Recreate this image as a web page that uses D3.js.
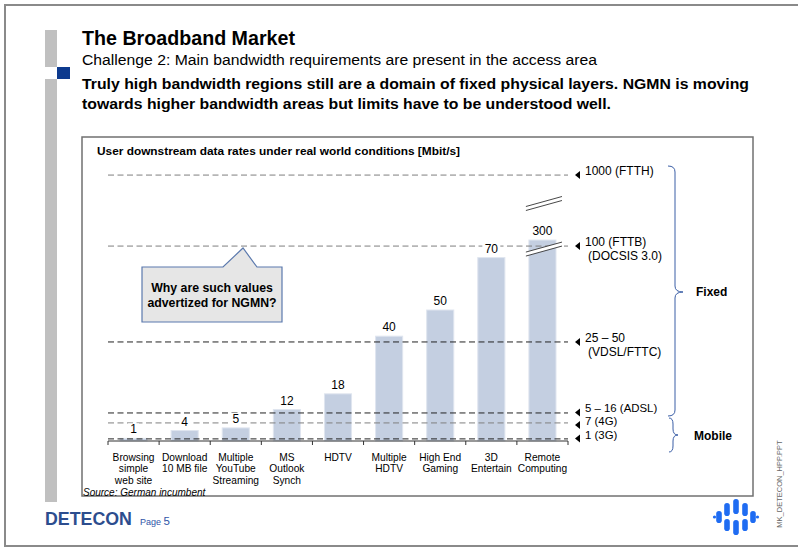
<!DOCTYPE html>
<html><head><meta charset="utf-8">
<script src="https://cdn.jsdelivr.net/npm/d3@7"></script>
<style>
html,body{margin:0;padding:0;background:#fff;}
svg{display:block;font-family:"Liberation Sans",Arial,sans-serif;}
</style></head>
<body>
<svg id="c" width="798" height="548"></svg>
<script>
// ---------- data ----------
const categories = ["Browsing\nsimple\nweb site","Download\n10 MB file","Multiple\nYouTube\nStreaming","MS\nOutlook\nSynch","HDTV","Multiple\nHDTV","High End\nGaming","3D\nEntertain","Remote\nComputing"];
const values = [1,4,5,12,18,40,50,70,300];
const barCap = 76.7;               // 300 bar shown with an axis break
const refLabels = ["1000 (FTTH)","100 (FTTB)\n(DOCSIS 3.0)","25 – 50\n(VDSL/FTTC)","5 – 16 (ADSL)","7 (4G)","1 (3G)"];
const refPositions = [101.5, 74.4, 37.8, 10.7, 6.9, 0.8]; // position on broken scale
const refDark = [false,false,true,true,false,true];
const groupLabels = ["Fixed","Mobile"];

const svg = d3.select("#c");
const labelNudge = [0,0,0,-0.5,2,-0.3];

// frame
svg.append("rect").attr("x",5).attr("y",5).attr("width",800).attr("height",541)
  .attr("fill","none").attr("stroke","#8a8a8a").attr("stroke-width",2);
// left grey bar + blue square
svg.append("rect").attr("x",45).attr("y",30).attr("width",12).attr("height",37).attr("fill","#c0c0c0");
svg.append("rect").attr("x",45).attr("y",79).attr("width",12).attr("height",423).attr("fill","#c0c0c0");
svg.append("rect").attr("x",57).attr("y",67).attr("width",13).attr("height",12).attr("fill","#0d3a8e");

// titles
svg.append("text").attr("x",82).attr("y",45).attr("font-size",19.5).attr("font-weight","bold")
  .attr("textLength",213).attr("lengthAdjust","spacingAndGlyphs").text("The Broadband Market");
svg.append("text").attr("x",82).attr("y",65).attr("font-size",15.5)
  .attr("textLength",515).attr("lengthAdjust","spacingAndGlyphs").text("Challenge 2: Main bandwidth requirements are present in the access area");
svg.append("text").attr("x",82).attr("y",89).attr("font-size",15.3).attr("font-weight","bold")
  .attr("textLength",667).attr("lengthAdjust","spacingAndGlyphs").text("Truly high bandwidth regions still are a domain of fixed physical layers. NGMN is moving");
svg.append("text").attr("x",82).attr("y",109).attr("font-size",15.3).attr("font-weight","bold")
  .attr("textLength",529).attr("lengthAdjust","spacingAndGlyphs").text("towards higher bandwidth areas but limits have to be understood well.");

// chart box
svg.append("rect").attr("x",82).attr("y",137).attr("width",671).attr("height",359)
  .attr("fill","none").attr("stroke","#707070").attr("stroke-width",1.5);
svg.append("text").attr("x",97).attr("y",155).attr("font-size",11.6).attr("font-weight","bold")
  .attr("textLength",363).attr("lengthAdjust","spacingAndGlyphs").text("User downstream data rates under real world conditions [Mbit/s]");

// scales
const x = d3.scaleBand().domain(categories).range([108,568]).paddingInner(0.47).paddingOuter(0.235);
const y = d3.scaleLinear().domain([0,100]).range([441,179]);
const step = x.step();

// bars
svg.append("g").selectAll("rect.bar").data(values).join("rect").attr("class","bar")
  .attr("x",(d,i)=>x(categories[i])).attr("width",x.bandwidth())
  .attr("y",d=>y(Math.min(d,barCap))).attr("height",d=>y(0)-y(Math.min(d,barCap)))
  .attr("fill","#c4cfe1").attr("stroke","#dfe5ef").attr("stroke-width",1);

// axis
const axisG = svg.append("g").attr("transform",`translate(0,${y(0)})`);
axisG.append("line").attr("x1",108).attr("x2",568).attr("stroke","#333").attr("stroke-width",1.2);
axisG.selectAll("line.tk").data(d3.range(categories.length+1)).join("line").attr("class","tk")
  .attr("x1",i=>108+i*step).attr("x2",i=>108+i*step).attr("y1",0).attr("y2",4).attr("stroke","#333");
categories.forEach((c,i)=>{
  const cx = x(c)+x.bandwidth()/2;
  const t = svg.append("text").attr("x",cx).attr("y",460.5).attr("text-anchor","middle").attr("font-size",10.2);
  c.split("\n").forEach((l,j)=>t.append("tspan").attr("x",cx).attr("dy",j?11.8:0).text(l));
});
svg.append("text").attr("x",83).attr("y",495.5).attr("font-size",10).attr("font-style","italic").text("Source: German incumbent");

// reference dashed lines (on top of bars)
refPositions.forEach((p,i)=>{
  svg.append("line").attr("x1",108).attr("x2",568).attr("y1",y(p)).attr("y2",y(p))
    .attr("stroke",refDark[i]?"#222":"#7f7f7f").attr("stroke-width",1).attr("stroke-dasharray","6,3.5");
  const ly = y(p)+labelNudge[i];
  svg.append("path").attr("d",`M575,${ly} L580,${ly-4} L580,${ly+4} Z`).attr("fill","#000");
  const fs = (i>=3)?11.4:12;
  const t = svg.append("text").attr("x",585).attr("y",ly).attr("dy","0.36em").attr("font-size",fs);
  refLabels[i].split("\n").forEach((l,j)=>t.append("tspan").attr("x",j?588:585).attr("dy",j?"1.2em":0).text(l));
});

// axis break on 300 bar
const bi = values.indexOf(300);
const bx0 = x(categories[bi])-3, bx1 = x(categories[bi])+x.bandwidth()+6;
function brk(yc){
  const a = yc+5, b = yc-5;
  svg.append("path").attr("d",`M${bx0},${a-2} L${bx1},${b-2} L${bx1},${b+2} L${bx0},${a+2} Z`).attr("fill","#fff");
  svg.append("line").attr("x1",bx0).attr("y1",a-2).attr("x2",bx1).attr("y2",b-2).attr("stroke","#333").attr("stroke-width",0.9);
  svg.append("line").attr("x1",bx0).attr("y1",a+2).attr("x2",bx1).attr("y2",b+2).attr("stroke","#333").attr("stroke-width",0.9);
}
brk(y(refPositions[1])+3);
brk(203.5);

// value labels with white backgrounds
values.forEach((v,i)=>{
  const cx = x(categories[i])+x.bandwidth()/2, ty = y(Math.min(v,barCap))-5;
  const s = String(v); const w = s.length*7+4;
  svg.append("rect").attr("x",cx-w/2).attr("y",ty-10).attr("width",w).attr("height",12).attr("fill","#fff");
  svg.append("text").attr("x",cx).attr("y",ty).attr("text-anchor","middle").attr("font-size",12).text(s);
});

// callout
svg.append("path").attr("d","M142,267 L223,267 L243,248 L257,267 L282,267 L282,322 L142,322 Z")
  .attr("fill","#e6e6e6").attr("stroke","#5b79ad").attr("stroke-width",1.2);
svg.append("text").attr("x",212).attr("y",291.5).attr("text-anchor","middle").attr("font-size",12.3).attr("font-weight","bold").text("Why are such values");
svg.append("text").attr("x",212).attr("y",306.5).attr("text-anchor","middle").attr("font-size",12.3).attr("font-weight","bold").text("advertized for NGMN?");

// braces
function brace(x0,y1,y2,ym,spine,tip){
  const r=6;
  return `M${x0},${y1} Q${spine},${y1} ${spine},${y1+r} L${spine},${ym-r} Q${spine},${ym} ${tip},${ym} Q${spine},${ym} ${spine},${ym+r} L${spine},${y2-r} Q${spine},${y2} ${x0},${y2}`;
}
svg.append("path").attr("d",brace(668,166,416,292,675,683)).attr("fill","none").attr("stroke","#3a5ea6").attr("stroke-width",1);
svg.append("path").attr("d",brace(669,418,452,435,673,678)).attr("fill","none").attr("stroke","#3a5ea6").attr("stroke-width",1);
svg.append("text").attr("x",696).attr("y",296).attr("font-size",12).attr("font-weight","bold").text(groupLabels[0]);
svg.append("text").attr("x",694).attr("y",439.5).attr("font-size",12).attr("font-weight","bold").text(groupLabels[1]);

// footer
svg.append("text").attr("x",45).attr("y",525).attr("font-size",17.8).attr("font-weight","bold")
  .attr("fill","#2c4d8e").text("DETECON");
const pg = svg.append("text").attr("x",140).attr("y",525).attr("fill","#2f55a8");
pg.append("tspan").attr("font-size",9).text("Page ");
pg.append("tspan").attr("font-size",11.5).text("5");
svg.append("text").attr("transform","translate(782,484) rotate(-90)").attr("text-anchor","middle").attr("font-size",7.5).attr("fill","#666").text("MK_DETECON_HPP.PPT");

// logo
const lg = svg.append("g").attr("transform","translate(736,517)").attr("fill","#1f6cf2");
[[-17,-6,6],[-9,-14,-1],[-9,2,14],[0,-18,-3],[0,3,18],[9,-14,-1],[9,2,14],[17,-6,6]].forEach(([cx,a,b])=>{
  lg.append("rect").attr("x",cx-2.8).attr("y",a).attr("width",5.6).attr("height",b-a).attr("rx",2.8);
});
lg.append("circle").attr("cx",-21.5).attr("cy",0).attr("r",1.6);
lg.append("circle").attr("cx",21.5).attr("cy",0).attr("r",1.6);
</script>
</body></html>
